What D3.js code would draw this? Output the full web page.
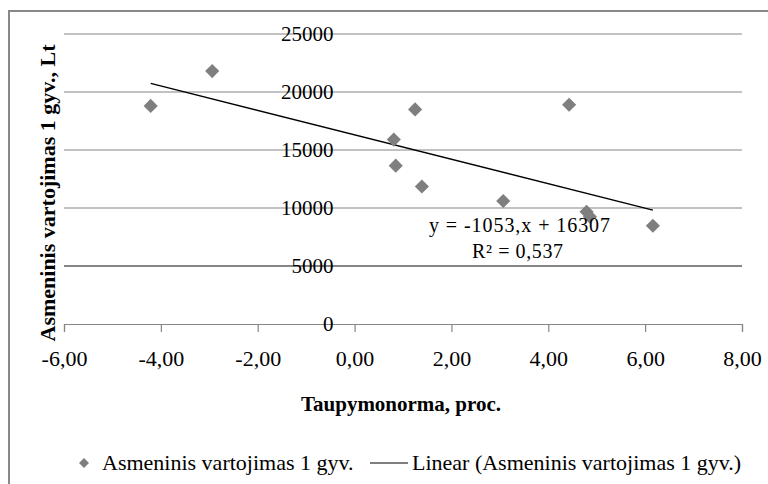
<!DOCTYPE html>
<html lang="lt">
<head>
<meta charset="UTF-8">
<title>Taupymo norma ir asmeninis vartojimas</title>
<script src="https://d3js.org/d3.v7.min.js"></script>
<style>
  body { margin: 0; background: #fff; }
  svg text { font-family: "Liberation Serif", "Times New Roman", serif; fill: #000; }
</style>
</head>
<body>
<svg width="768" height="484"></svg>
<script>
  // taupymo norma (proc.) ir asmeninis vartojimas 1 gyv. (Lt)
  const savingRate = [-4.21, -2.94, 0.81, 0.85, 1.25, 1.39, 3.07, 4.43, 4.79, 4.86, 6.16];
  const consumption = [18800, 21800, 15900, 13650, 18500, 11850, 10600, 18900, 9680, 9250, 8470];
  const xTicks = [-6, -4, -2, 0, 2, 4, 6, 8];
  const yTicks = [0, 5000, 10000, 15000, 20000, 25000];
  const slope = -1053, intercept = 16307;
  const eqLabel = "y = -1053,x + 16307";
  const r2Label = "R² = 0,537";
  const seriesName = "Asmeninis vartojimas 1 gyv.";

  const svg = d3.select("svg");
  const fmt = d => d.toFixed(2).replace(".", ",");
  const serif = "'Liberation Serif', 'Times New Roman', serif";

  const x = d3.scaleLinear().domain([-6, 8]).range([64, 742]);
  const y = d3.scaleLinear().domain([0, 25000]).range([324, 34]);

  // chart frame
  svg.append("path")
    .attr("d", "M9,484 V11 H768")
    .attr("fill", "none")
    .attr("stroke", "#888")
    .attr("stroke-width", 2);

  // gridlines
  svg.append("g").selectAll("line")
    .data(yTicks.filter(d => d > 0))
    .enter().append("line")
    .attr("x1", x(-6)).attr("x2", x(8))
    .attr("y1", d => y(d)).attr("y2", d => y(d))
    .attr("stroke", "#868686")
    .attr("stroke-width", d => d === 5000 ? 1.8 : 1.2);

  // x axis
  const xAxis = svg.append("g")
    .attr("transform", `translate(0,${y(0)})`)
    .call(d3.axisBottom(x).tickValues(xTicks).tickFormat(fmt).tickSize(8))
    .attr("font-family", serif);
  xAxis.select(".domain").attr("stroke", "#868686").attr("stroke-width", 1.2);
  xAxis.selectAll(".tick line").attr("stroke", "#868686").attr("stroke-width", 1.2);
  xAxis.selectAll("text").attr("y", 42).attr("dy", null)
    .style("font-family", serif).style("font-size", "22px");

  // y axis labels sit at x = 0, no axis line
  const yAxis = svg.append("g")
    .attr("transform", `translate(${x(0)},0)`)
    .call(d3.axisLeft(y).tickValues(yTicks).tickFormat(d3.format("d")).tickSize(0).tickPadding(21))
    .attr("font-family", serif);
  yAxis.select(".domain").remove();
  yAxis.selectAll("text").attr("dy", "0.3em")
    .style("font-family", serif).style("font-size", "21px");

  // trend line
  const ext = d3.extent(savingRate);
  svg.append("line")
    .attr("x1", x(ext[0])).attr("y1", y(slope * ext[0] + intercept))
    .attr("x2", x(ext[1])).attr("y2", y(slope * ext[1] + intercept))
    .attr("stroke", "#000")
    .attr("stroke-width", 1.4);

  // points
  const diamond = d3.symbol().type(d3.symbolSquare).size(100);
  svg.append("g").selectAll("path")
    .data(savingRate.map((v, i) => [v, consumption[i]]))
    .enter().append("path")
    .attr("d", diamond)
    .attr("transform", d => `translate(${x(d[0])},${y(d[1])}) rotate(45)`)
    .attr("fill", "#7f7f7f");

  // equation
  svg.append("text").attr("x", 429).attr("y", 232)
    .attr("font-size", 20).attr("textLength", 181).attr("lengthAdjust", "spacing")
    .text(eqLabel);
  svg.append("text").attr("x", 472).attr("y", 258)
    .attr("font-size", 20).attr("textLength", 91).attr("lengthAdjust", "spacing")
    .text(r2Label);

  // axis titles
  svg.append("text")
    .attr("x", 401).attr("y", 411)
    .attr("text-anchor", "middle")
    .attr("font-size", 21).attr("font-weight", "bold")
    .text("Taupymonorma, proc.");
  svg.append("text")
    .attr("transform", "translate(55,193) rotate(-90)")
    .attr("text-anchor", "middle")
    .attr("font-size", 22).attr("font-weight", "bold")
    .text(seriesName.replace(".", "., Lt"));

  // legend
  const lg = svg.append("g").attr("transform", "translate(0,463)");
  lg.append("path")
    .attr("d", d3.symbol().type(d3.symbolSquare).size(50))
    .attr("transform", "translate(84,0) rotate(45)")
    .attr("fill", "#7f7f7f");
  lg.append("text").attr("x", 102).attr("y", 7).attr("font-size", 22)
    .text(seriesName);
  lg.append("line").attr("x1", 370).attr("x2", 408).attr("y1", 0).attr("y2", 0)
    .attr("stroke", "#000").attr("stroke-width", 1.2);
  lg.append("text").attr("x", 412).attr("y", 7).attr("font-size", 22)
    .text(`Linear (${seriesName})`);
</script>
</body>
</html>
